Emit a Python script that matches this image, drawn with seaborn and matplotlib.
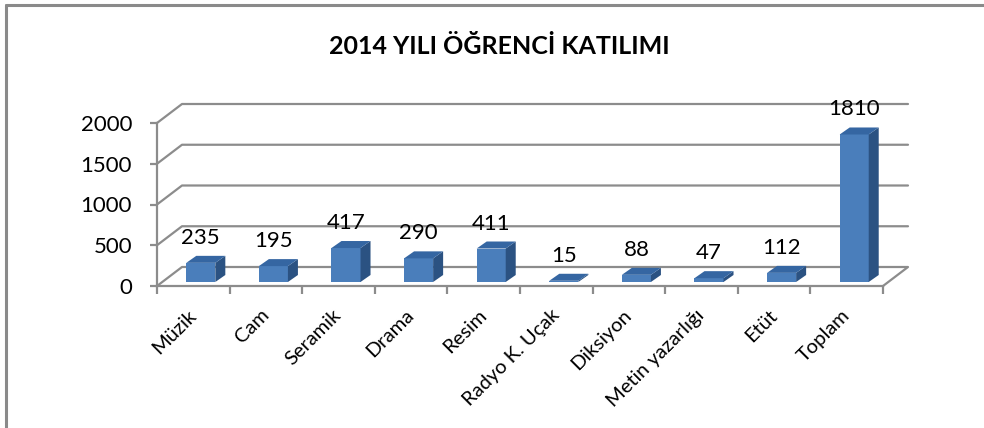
import matplotlib
matplotlib.use("Agg")
import matplotlib.pyplot as plt
import seaborn as sns
import pandas as pd
from matplotlib.transforms import IdentityTransform, ScaledTranslation
from matplotlib.patches import Polygon
from matplotlib.lines import Line2D

# ---- data ----
categories = ["Müzik", "Cam", "Seramik", "Drama", "Resim", "Radyo K. Uçak",
              "Diksiyon", "Metin yazarlığı", "Etüt", "Toplam"]
values = [235, 195, 417, 290, 411, 15, 88, 47, 112, 1810]
yticks = [0, 500, 1000, 1500, 2000]
title = "2014 YILI ÖĞRENCİ KATILIMI"

# ---- style ----
sns.set_theme(style="white")
plt.rcParams['font.family'] = ['Lato', 'DejaVu Sans']

FRONT = "#4A7EBB"
SIDE = "#2B5282"
TOP = "#3566A2"
GRID = "#8C8C8C"

DPI = 100
W, H = 984, 428
fig = plt.figure(figsize=(W / DPI, H / DPI), dpi=DPI)
fig.patch.set_facecolor("white")

ax = fig.add_axes([157 / W, (H - 286) / H, (883 - 157) / W, (286 - 123) / H])
df = pd.DataFrame({"cat": categories, "val": values})
sns.barplot(data=df, x="cat", y="val", ax=ax, width=0.4, color=FRONT,
            saturation=1, zorder=3)
ax.set_xlim(-0.5, len(categories) - 0.5)
ax.set_ylim(yticks[0], yticks[-1])
ax.set_facecolor("none")
ax.set_xlabel("")
ax.set_ylabel("")

# pseudo-3D geometry (pixels)
BX, BY = 25, 19      # back wall offset
SX, SY = 7.5, 4      # bar placement within depth
DX, DY = 10, 7       # bar depth
ident = IdentityTransform()

def disp(x, y):
    return ax.transData.transform((x, y))

xl, xr = ax.get_xlim()
# back wall gridlines + left wall diagonals
for yv in yticks:
    fx, fy = disp(xl, yv)
    rx, _ = disp(xr, yv)
    xs = [fx, fx + BX, rx + BX]
    ys = [fy, fy + BY, fy + BY]
    if yv == yticks[0]:
        xs.append(rx)
        ys.append(fy)
    ax.add_line(Line2D(xs, ys, transform=ident, color=GRID, lw=1.6,
                       clip_on=False, zorder=1))

# bars: shift front face, add side and top faces
shift = ax.transData + ScaledTranslation(SX / DPI, SY / DPI, fig.dpi_scale_trans)
for p, v in zip(list(ax.patches), values):
    x0, w, h = p.get_x(), p.get_width(), p.get_height()
    X0, Y0 = disp(x0, 0)
    X1, Y1 = disp(x0 + w, h)
    X0 += SX; X1 += SX; Y0 += SY; Y1 += SY
    p.set_transform(shift)
    p.set_clip_on(False)
    p.set_linewidth(0)
    side = Polygon([(X1, Y0), (X1 + DX, Y0 + DY), (X1 + DX, Y1 + DY), (X1, Y1)],
                   closed=True, transform=ident, facecolor=SIDE, edgecolor="none",
                   clip_on=False, zorder=3)
    top = Polygon([(X0, Y1), (X1, Y1), (X1 + DX, Y1 + DY), (X0 + DX, Y1 + DY)],
                  closed=True, transform=ident, facecolor=TOP, edgecolor="none",
                  clip_on=False, zorder=3)
    ax.add_patch(side)
    ax.add_patch(top)
    ax.annotate(str(v), xy=(x0 + w / 2, h), xytext=(SX, SY + 19),
                textcoords="offset pixels", ha="center", va="baseline",
                fontsize=16, color="black", zorder=5, annotation_clip=False)

# axes styling
for s in ["top", "right"]:
    ax.spines[s].set_visible(False)
for s in ["left", "bottom"]:
    ax.spines[s].set_color(GRID)
    ax.spines[s].set_linewidth(1.6)
    ax.spines[s].set_zorder(2)

ax.set_yticks(yticks)
ax.set_yticklabels([str(t) for t in yticks])
ax.tick_params(axis="y", length=5, width=1.6, color=GRID, pad=13,
               labelsize=16, labelcolor="black", left=True)
ax.set_xticks(range(len(categories)))
ax.set_xticks([i - 0.5 for i in range(len(categories) + 1)], minor=True)
ax.set_xticklabels(categories)
ax.tick_params(axis="x", which="major", length=0, pad=19, labelsize=14.5,
               labelcolor="black")
ax.tick_params(axis="x", which="minor", length=6, width=1.6, color=GRID,
               bottom=True)
for lab in ax.get_xticklabels():
    lab.set_rotation(45)
    lab.set_ha("right")
    lab.set_va("center")
    lab.set_rotation_mode("anchor")

fig.text(499 / W, 1 - 46 / H, title, ha="center", va="center",
         fontsize=18, fontweight="bold", color="black")

# chart frame (top and left edges)
fig.add_artist(Line2D([6 / W, 6 / W], [0, 1 - 5 / H], transform=fig.transFigure,
                      color="#8A8A8A", lw=2.2))
fig.add_artist(Line2D([6 / W, 1], [1 - 5 / H, 1 - 5 / H], transform=fig.transFigure,
                      color="#8A8A8A", lw=2.2))

fig.savefig("out.png", dpi=DPI)
